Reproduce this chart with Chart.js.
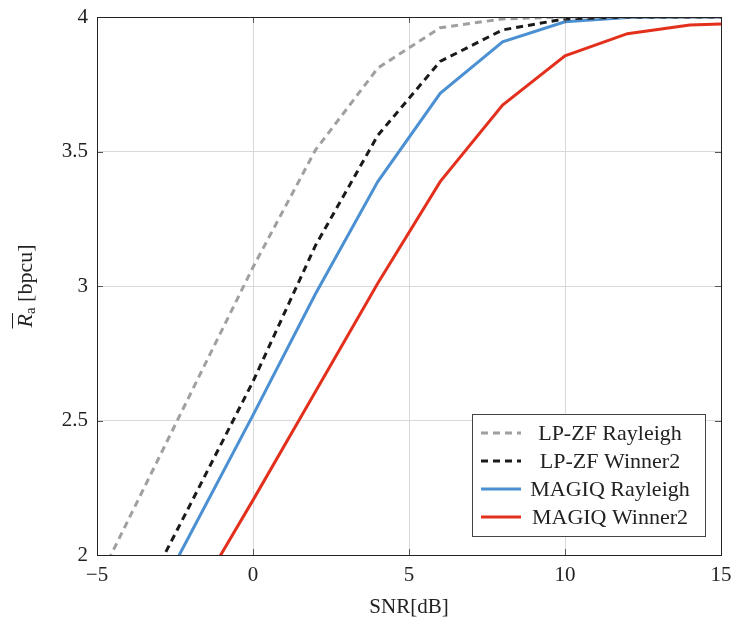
<!DOCTYPE html>
<html>
<head>
<meta charset="utf-8">
<script src="https://cdn.jsdelivr.net/npm/chart.js@4.4.0/dist/chart.umd.min.js"></script>
<style>
  body { margin: 0; background: #fff; }
  #wrap { width: 738px; height: 624px; }
</style>
</head>
<body>
<div id="wrap"><canvas id="rateChart" width="738" height="624"></canvas></div>
<script>
// SNR grid (dB) and average rate values
const snr = [-6, -4, -2, 0, 2, 4, 6, 8, 10, 12, 14, 16];
const lpzfRayleigh = [1.66, 2.13, 2.60, 3.07, 3.505, 3.81, 3.96, 3.993, 4.0, 4.0, 4.0, 4.0];
const lpzfWinner2 = [1.30, 1.74, 2.19, 2.645, 3.15, 3.56, 3.835, 3.952, 3.993, 4.0, 4.0, 4.0];
const magiqRayleigh = [1.20, 1.64, 2.08, 2.52, 2.97, 3.388, 3.716, 3.908, 3.982, 3.998, 4.0, 4.0];
const magiqWinner2 = [1.00, 1.41, 1.81, 2.204, 2.607, 3.01, 3.388, 3.673, 3.856, 3.938, 3.97, 3.978];

const xTicks = [-5, 0, 5, 10, 15];
const yTicks = [2, 2.5, 3, 3.5, 4];

const FONT = "'Liberation Serif', 'DejaVu Serif', serif";

function toPoints(ys) {
    return snr.map((x, i) => ({ x: x, y: ys[i] }));
}

// frame, inner tick marks
const framePlugin = {
    id: 'frame',
    afterDatasetsDraw(chart) {
        const { ctx, chartArea: a, scales } = chart;
        ctx.save();
        ctx.strokeStyle = '#555';
        ctx.lineWidth = 1;
        const len = 6;
        ctx.beginPath();
        xTicks.forEach(v => {
            const px = Math.round(scales.x.getPixelForValue(v)) + 0.5;
            ctx.moveTo(px, a.bottom); ctx.lineTo(px, a.bottom - len);
            ctx.moveTo(px, a.top); ctx.lineTo(px, a.top + len);
        });
        yTicks.forEach(v => {
            const py = Math.round(scales.y.getPixelForValue(v)) + 0.5;
            ctx.moveTo(a.left, py); ctx.lineTo(a.left + len, py);
            ctx.moveTo(a.right, py); ctx.lineTo(a.right - len, py);
        });
        ctx.stroke();
        ctx.strokeStyle = '#222';
        ctx.strokeRect(Math.round(a.left) + 0.5, Math.round(a.top) + 0.5,
            Math.round(a.right - a.left), Math.round(a.bottom - a.top));
        ctx.restore();
    }
};

// y axis title: overlined italic R with subscript a
const yTitlePlugin = {
    id: 'yTitle',
    afterDraw(chart) {
        const { ctx, chartArea: a } = chart;
        const cy = (a.top + a.bottom) / 2;
        ctx.save();
        ctx.translate(26, cy);
        ctx.rotate(-Math.PI / 2);
        ctx.fillStyle = '#222';
        ctx.textBaseline = 'middle';
        ctx.textAlign = 'left';
        const fR = 'italic 22px ' + FONT;
        const fSub = '15px ' + FONT;
        const fRest = '22px ' + FONT;
        ctx.font = fR; const wR = ctx.measureText('R').width;
        ctx.font = fSub; const wA = ctx.measureText('a').width;
        ctx.font = fRest; const wRest = ctx.measureText(' [bpcu]').width;
        let x = -(wR + wA + wRest) / 2;
        ctx.font = fR; ctx.fillText('R', x, 0);
        ctx.strokeStyle = '#222';
        ctx.lineWidth = 1;
        ctx.beginPath();
        ctx.moveTo(x - 1, -13.5); ctx.lineTo(x + wR + 1, -13.5);
        ctx.stroke();
        x += wR;
        ctx.font = fSub; ctx.fillText('a', x, 5);
        x += wA;
        ctx.font = fRest; ctx.fillText(' [bpcu]', x, 0);
        ctx.restore();
    }
};

// legend box inside the plot, lower right
const legendPlugin = {
    id: 'boxLegend',
    afterDraw(chart) {
        const { ctx } = chart;
        const box = { left: 472, top: 414, width: 233, height: 122 };
        ctx.save();
        ctx.fillStyle = '#fff';
        ctx.fillRect(box.left, box.top, box.width, box.height);
        ctx.strokeStyle = '#444';
        ctx.lineWidth = 1;
        ctx.strokeRect(box.left + 0.5, box.top + 0.5, box.width, box.height);
        const rows = [433, 461, 489, 517];
        ctx.font = '22px ' + FONT;
        ctx.textAlign = 'center';
        ctx.textBaseline = 'middle';
        chart.data.datasets.forEach((ds, i) => {
            const y = rows[i];
            ctx.strokeStyle = ds.borderColor;
            ctx.lineWidth = ds.borderWidth;
            ctx.setLineDash(ds.borderDash || []);
            ctx.beginPath();
            ctx.moveTo(481, y); ctx.lineTo(521, y);
            ctx.stroke();
            ctx.setLineDash([]);
            ctx.fillStyle = '#222';
            ctx.fillText(ds.label, 610, y + 1);
        });
        ctx.restore();
    }
};

function initChart() {
    const ctx = document.getElementById('rateChart').getContext('2d');
    new Chart(ctx, {
        type: 'line',
        data: {
            datasets: [{
                label: 'LP-ZF Rayleigh',
                data: toPoints(lpzfRayleigh),
                borderColor: '#a0a0a0',
                borderDash: [7, 5],
                borderWidth: 3
            }, {
                label: 'LP-ZF Winner2',
                data: toPoints(lpzfWinner2),
                borderColor: '#1a1a1a',
                borderDash: [7, 5],
                borderWidth: 3
            }, {
                label: 'MAGIQ Rayleigh',
                data: toPoints(magiqRayleigh),
                borderColor: '#4a90d2',
                borderWidth: 3
            }, {
                label: 'MAGIQ Winner2',
                data: toPoints(magiqWinner2),
                borderColor: '#e3301c',
                borderWidth: 3
            }]
        },
        options: {
            responsive: false,
            animation: false,
            layout: { padding: { top: 17, right: 17, left: 0, bottom: 0 } },
            elements: { point: { radius: 0 }, line: { tension: 0 } },
            plugins: {
                legend: { display: false },
                tooltip: { enabled: false }
            },
            scales: {
                x: {
                    type: 'linear',
                    min: -5,
                    max: 15,
                    afterBuildTicks: s => { s.ticks = xTicks.map(v => ({ value: v })); },
                    afterFit: s => {
                        s.height = 69;
                        s.paddingLeft = 0;
                        s.paddingRight = 0;
                    },
                    ticks: {
                        color: '#222',
                        font: { family: FONT, size: 21 },
                        padding: 8,
                        callback: v => String(v).replace('-', '\u2212')
                    },
                    grid: { color: '#d9d9d9', drawTicks: false },
                    border: { display: false },
                    title: {
                        display: true,
                        text: 'SNR[dB]',
                        color: '#222',
                        font: { family: FONT, size: 21 },
                        padding: { top: 0, bottom: 4 }
                    }
                },
                y: {
                    type: 'linear',
                    min: 2,
                    max: 4,
                    afterBuildTicks: s => { s.ticks = yTicks.map(v => ({ value: v })); },
                    afterFit: s => {
                        s.width = 97;
                        s.paddingTop = 0;
                        s.paddingBottom = 0;
                    },
                    ticks: {
                        color: '#222',
                        font: { family: FONT, size: 21 },
                        padding: 9,
                        callback: v => String(v)
                    },
                    grid: { color: '#d9d9d9', drawTicks: false },
                    border: { display: false }
                }
            }
        },
        plugins: [framePlugin, yTitlePlugin, legendPlugin]
    });
}

initChart();
</script>
</body>
</html>
